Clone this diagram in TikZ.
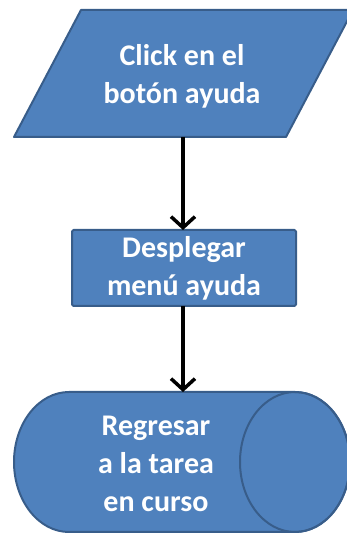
\documentclass[tikz,border=0pt]{standalone}
\usepackage{fontspec}
\setmainfont{Carlito}
\usetikzlibrary{arrows.meta}
\definecolor{boxfill}{HTML}{4F81BD}
\definecolor{boxline}{HTML}{385D8A}
\begin{document}
\begin{tikzpicture}[x=1pt,y=1pt,
  shapestyle/.style={fill=boxfill,draw=boxline,line width=2pt,line join=round},
  label/.style={text=white,font=\fontsize{30}{38}\selectfont\bfseries,align=center,inner sep=0pt},
  flow/.style={line width=3.5pt,-{Straight Barb[length=11pt,width=24pt,line width=3.5pt]}}]
\useasboundingbox (0,0) rectangle (347,533);
\clip (0,0) rectangle (347,533);
% input step (parallelogram)
\draw[shapestyle] (14,396) -- (286,396) -- (353,523) -- (81,523) -- cycle;
\node[label] (click) at (182,457) {Click en el\\botón ayuda};
\coordinate (click-out) at (183,396);
% process step (rectangle)
\draw[shapestyle,rounded corners=1.5pt] (72,227) rectangle (296,303);
\node[label] (menu) at (184,265) {Desplegar\\menú ayuda};
\coordinate (menu-in) at (183,303);
\coordinate (menu-out) at (183,227);
% storage step (horizontal cylinder)
\draw[shapestyle] (295,141) -- (69,141) arc[start angle=90,end angle=270,x radius=55,y radius=70]
  -- (295,1) arc[start angle=-90,end angle=90,x radius=55,y radius=70] -- cycle;
\draw[boxline,line width=2pt] (295,71) ellipse[x radius=55,y radius=70];
\node[label] (back) at (156,69) {Regresar\\a la tarea\\en curso};
\coordinate (back-in) at (183,141);
% connectors
\draw[flow] (click-out) -- (menu-in);
\draw[flow] (menu-out) -- (back-in);
\end{tikzpicture}
\end{document}
